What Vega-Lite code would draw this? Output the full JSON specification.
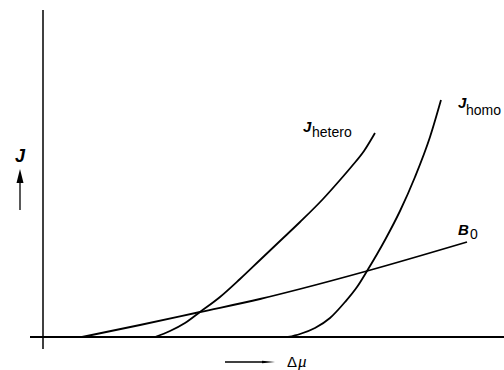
{
  "$schema": "https://vega.github.io/schema/vega-lite/v6.json",
  "width": 504,
  "height": 370,
  "padding": 0,
  "autosize": {"type": "none"},
  "config": {"view": {"stroke": null}, "axis": {"disable": true}},
  "datasets": {
    "curves": [
      {"series": "B0", "x": 39, "y": 0}, {"series": "B0", "x": 97, "y": 12}, {"series": "B0", "x": 157, "y": 25},
      {"series": "B0", "x": 217, "y": 38}, {"series": "B0", "x": 257, "y": 48}, {"series": "B0", "x": 324, "y": 66},
      {"series": "B0", "x": 424, "y": 95},
      {"series": "Jhetero", "x": 112, "y": 0}, {"series": "Jhetero", "x": 127, "y": 6}, {"series": "Jhetero", "x": 142, "y": 14},
      {"series": "Jhetero", "x": 157, "y": 25}, {"series": "Jhetero", "x": 177, "y": 40}, {"series": "Jhetero", "x": 197, "y": 58},
      {"series": "Jhetero", "x": 217, "y": 77}, {"series": "Jhetero", "x": 237, "y": 96}, {"series": "Jhetero", "x": 257, "y": 115},
      {"series": "Jhetero", "x": 280, "y": 138}, {"series": "Jhetero", "x": 297, "y": 157}, {"series": "Jhetero", "x": 309, "y": 171},
      {"series": "Jhetero", "x": 321, "y": 186}, {"series": "Jhetero", "x": 332, "y": 204},
      {"series": "Jhomo", "x": 245, "y": 0}, {"series": "Jhomo", "x": 257, "y": 3}, {"series": "Jhomo", "x": 272, "y": 9},
      {"series": "Jhomo", "x": 287, "y": 19}, {"series": "Jhomo", "x": 302, "y": 35}, {"series": "Jhomo", "x": 314, "y": 50},
      {"series": "Jhomo", "x": 324, "y": 66}, {"series": "Jhomo", "x": 342, "y": 97}, {"series": "Jhomo", "x": 357, "y": 126},
      {"series": "Jhomo", "x": 372, "y": 160}, {"series": "Jhomo", "x": 387, "y": 200}, {"series": "Jhomo", "x": 398, "y": 237}
    ],
    "hAxis": [{"x": -13, "x2": 461, "y": 0}],
    "vAxis": [{"x": 0, "y": -12, "y2": 327}],
    "shafts": [
      {"x": 182, "x2": 222, "y": -25, "y2": -25},
      {"x": -23, "x2": -23, "y": 127, "y2": 155}
    ],
    "headRight": [{"x": 225.5, "y": -25}],
    "headUp": [{"x": -23, "y": 161}],
    "bigLetters": [
      {"label": "J", "x": 260, "y": 205},
      {"label": "J", "x": 415, "y": 229},
      {"label": "B", "x": 415, "y": 102}
    ],
    "subs": [
      {"label": "hetero", "x": 269, "y": 200},
      {"label": "homo", "x": 423, "y": 222},
      {"label": "0", "x": 427, "y": 98}
    ],
    "yLabel": [{"label": "J", "x": -28, "y": 175}],
    "delta": [{"label": "Δ", "x": 244, "y": -30}],
    "mu": [{"label": "μ", "x": 255, "y": -30}]
  },
  "layer": [
    {
      "data": {"name": "hAxis"},
      "mark": {"type": "rule", "color": "black", "strokeWidth": 2},
      "encoding": {
        "x": {"field": "x", "type": "quantitative", "scale": {"domain": [-43, 461], "nice": false, "zero": false}},
        "x2": {"field": "x2"},
        "y": {"field": "y", "type": "quantitative", "scale": {"domain": [-33, 337], "nice": false, "zero": false}}
      }
    },
    {
      "data": {"name": "vAxis"},
      "mark": {"type": "rule", "color": "black", "strokeWidth": 1.5},
      "encoding": {
        "x": {"field": "x", "type": "quantitative"},
        "y": {"field": "y", "type": "quantitative"},
        "y2": {"field": "y2"}
      }
    },
    {
      "data": {"name": "curves"},
      "mark": {"type": "line", "color": "black", "strokeWidth": 1.8, "interpolate": "monotone"},
      "encoding": {
        "x": {"field": "x", "type": "quantitative"},
        "y": {"field": "y", "type": "quantitative"},
        "detail": {"field": "series"}
      }
    },
    {
      "data": {"name": "shafts"},
      "mark": {"type": "rule", "color": "black", "strokeWidth": 1.3},
      "encoding": {
        "x": {"field": "x", "type": "quantitative"},
        "x2": {"field": "x2"},
        "y": {"field": "y", "type": "quantitative"},
        "y2": {"field": "y2"}
      }
    },
    {
      "data": {"name": "headRight"},
      "mark": {"type": "point", "shape": "M-1,-0.2L1,0L-1,0.2Z", "size": 169, "filled": true, "color": "black", "opacity": 1},
      "encoding": {
        "x": {"field": "x", "type": "quantitative"},
        "y": {"field": "y", "type": "quantitative"}
      }
    },
    {
      "data": {"name": "headUp"},
      "mark": {"type": "point", "shape": "M-0.5,1L0,-1L0.5,1Z", "size": 196, "filled": true, "color": "black", "opacity": 1},
      "encoding": {
        "x": {"field": "x", "type": "quantitative"},
        "y": {"field": "y", "type": "quantitative"}
      }
    },
    {
      "data": {"name": "bigLetters"},
      "mark": {"type": "text", "font": "Liberation Sans", "fontSize": 15, "fontStyle": "italic", "fontWeight": "bold", "align": "left", "baseline": "alphabetic", "color": "black"},
      "encoding": {
        "x": {"field": "x", "type": "quantitative"},
        "y": {"field": "y", "type": "quantitative"},
        "text": {"field": "label"}
      }
    },
    {
      "data": {"name": "subs"},
      "mark": {"type": "text", "font": "Liberation Sans", "fontSize": 14, "align": "left", "baseline": "alphabetic", "color": "black"},
      "encoding": {
        "x": {"field": "x", "type": "quantitative"},
        "y": {"field": "y", "type": "quantitative"},
        "text": {"field": "label"}
      }
    },
    {
      "data": {"name": "yLabel"},
      "mark": {"type": "text", "font": "Liberation Sans", "fontSize": 18, "fontStyle": "italic", "fontWeight": "bold", "align": "left", "baseline": "alphabetic", "color": "black"},
      "encoding": {
        "x": {"field": "x", "type": "quantitative"},
        "y": {"field": "y", "type": "quantitative"},
        "text": {"field": "label"}
      }
    },
    {
      "data": {"name": "delta"},
      "mark": {"type": "text", "font": "Liberation Sans", "fontSize": 15, "align": "left", "baseline": "alphabetic", "color": "black"},
      "encoding": {
        "x": {"field": "x", "type": "quantitative"},
        "y": {"field": "y", "type": "quantitative"},
        "text": {"field": "label"}
      }
    },
    {
      "data": {"name": "mu"},
      "mark": {"type": "text", "font": "Liberation Serif", "fontSize": 17, "fontStyle": "italic", "align": "left", "baseline": "alphabetic", "color": "black"},
      "encoding": {
        "x": {"field": "x", "type": "quantitative"},
        "y": {"field": "y", "type": "quantitative"},
        "text": {"field": "label"}
      }
    }
  ]
}
